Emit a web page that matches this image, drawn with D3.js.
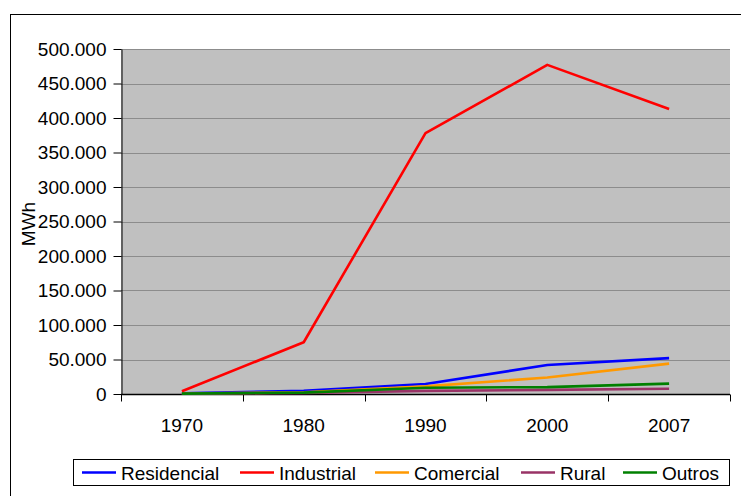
<!DOCTYPE html>
<html>
<head>
<meta charset="utf-8">
<script src="https://cdn.jsdelivr.net/npm/d3@7"></script>
<style>
  body { margin: 0; background: #fff; }
  svg { display: block; font-family: "Liberation Sans", Arial, sans-serif; }
</style>
</head>
<body>
<div id="chart"></div>
<script>
const years = ['1970', '1980', '1990', '2000', '2007'];
const residencial = [1000, 4500, 14500, 42000, 52000];
const industrial = [4000, 75000, 378000, 477000, 413000];
const comercial = [500, 2500, 11000, 24000, 44000];
const rural = [300, 1500, 4500, 6000, 7700];
const outros = [500, 2000, 9000, 10000, 15000];
const yTicks = [0, 50000, 100000, 150000, 200000, 250000, 300000, 350000, 400000, 450000, 500000];

const series = [
  { name: 'Residencial', values: residencial, color: '#0000ff' },
  { name: 'Industrial', values: industrial, color: '#ff0000' },
  { name: 'Comercial', values: comercial, color: '#ff9900' },
  { name: 'Rural', values: rural, color: '#993366' },
  { name: 'Outros', values: outros, color: '#008000' }
];

const width = 741, height = 496;
const margin = { top: 49, right: 11, bottom: 102, left: 121 };
const fontSize = 19;

const svg = d3.select('#chart').append('svg')
  .attr('width', width)
  .attr('height', height);

// outer chart border
svg.append('rect')
  .attr('x', 10.5).attr('y', 14.5)
  .attr('width', 800).attr('height', 600)
  .attr('fill', '#fff').attr('stroke', '#000').attr('stroke-width', 1);

const x = d3.scaleBand()
  .domain(years)
  .range([margin.left, width - margin.right]);

const y = d3.scaleLinear()
  .domain([0, 500000])
  .range([height - margin.bottom, margin.top]);

// plot area
svg.append('rect')
  .attr('x', margin.left).attr('y', margin.top)
  .attr('width', width - margin.left - margin.right)
  .attr('height', height - margin.top - margin.bottom)
  .attr('fill', '#c0c0c0');

// gridlines
svg.append('g')
  .attr('stroke', '#8c8c8c')
  .attr('stroke-width', 1)
  .selectAll('line')
  .data(yTicks.filter(d => d > 0))
  .join('line')
    .attr('x1', margin.left).attr('x2', width - margin.right)
    .attr('y1', d => Math.round(y(d)) + 0.5)
    .attr('y2', d => Math.round(y(d)) + 0.5);

const fmt = d => d === 0 ? '0' : d3.format(',')(d).replace(/,/g, '.');

// y axis
svg.append('g')
  .attr('transform', `translate(${margin.left + 0.5},0)`)
  .call(d3.axisLeft(y).tickValues(yTicks).tickFormat(fmt).tickSizeInner(8).tickSizeOuter(0).tickPadding(7))
  .call(g => g.selectAll('text').attr('font-size', fontSize).attr('fill', '#000').attr('font-family', '"Liberation Sans", Arial, sans-serif'))
  .call(g => g.selectAll('line, path').attr('stroke', '#000'));

// x axis with ticks at category boundaries
const xg = svg.append('g')
  .attr('transform', `translate(0,${Math.round(y(0)) + 0.5})`);
xg.append('line')
  .attr('x1', margin.left).attr('x2', width - margin.right)
  .attr('stroke', '#000').attr('stroke-width', 1.5);
const bounds = years.map(d => x(d)).concat([x(years[years.length - 1]) + x.bandwidth()]);
xg.selectAll('line.tick')
  .data(bounds)
  .join('line')
    .attr('class', 'tick')
    .attr('x1', d => Math.round(d) + 0.5).attr('x2', d => Math.round(d) + 0.5)
    .attr('y1', 0).attr('y2', 7)
    .attr('stroke', '#000');
xg.selectAll('text')
  .data(years)
  .join('text')
    .attr('x', d => x(d) + x.bandwidth() / 2)
    .attr('y', 37)
    .attr('text-anchor', 'middle')
    .attr('font-size', fontSize)
    .text(d => d);

// y axis title
svg.append('text')
  .attr('transform', `translate(35,224) rotate(-90)`)
  .attr('text-anchor', 'middle')
  .attr('font-size', fontSize)
  .text('MWh');

// lines
const line = d3.line()
  .x((d, i) => x(years[i]) + x.bandwidth() / 2)
  .y(d => y(d));

svg.append('g')
  .attr('fill', 'none')
  .attr('stroke-width', 2.6)
  .attr('stroke-linejoin', 'round')
  .selectAll('path')
  .data(series)
  .join('path')
    .attr('stroke', d => d.color)
    .attr('d', d => line(d.values));

// legend
const legend = svg.append('g');
legend.append('rect')
  .attr('x', 73.5).attr('y', 459.5)
  .attr('width', 656).attr('height', 26)
  .attr('fill', '#fff').attr('stroke', '#000').attr('stroke-width', 1);
const legendX = [82, 240, 375, 521, 623];
const items = legend.selectAll('g.item')
  .data(series)
  .join('g')
    .attr('class', 'item')
    .attr('transform', (d, i) => `translate(${legendX[i]},472.5)`);
items.append('line')
  .attr('x1', 0).attr('x2', 34)
  .attr('stroke', d => d.color)
  .attr('stroke-width', 2.6);
items.append('text')
  .attr('x', 39)
  .attr('y', 7)
  .attr('font-size', fontSize)
  .text(d => d.name);
</script>
</body>
</html>
